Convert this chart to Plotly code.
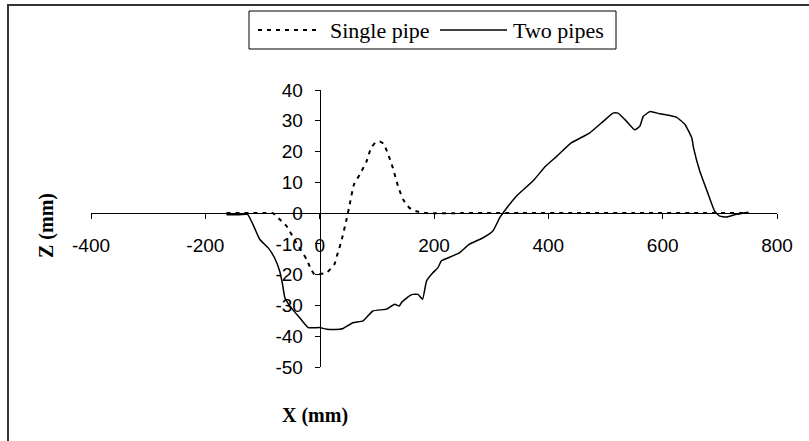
import plotly.graph_objects as go

# ---- data ----
single_x = [-163, -140, -120, -100, -82, -70, -58, -41, -23, -15, -9, 0, 12, 26, 30, 38,
            47, 52, 60, 70, 82, 90, 98, 105, 112, 119, 128, 137, 146, 157, 169, 187,
            250, 350, 450, 550, 650, 750]
single_y = [0, 0, 0, 0, 0, -2, -4.2, -9.6, -15, -18.3, -19.9, -19.8, -19.4, -16.5, -14, -9.1,
            -2, 2.3, 9.3, 12.5, 16.8, 21.2, 23, 23.3, 22.5, 19.5, 14.7, 8.8, 4.4, 1.7, 0.6, 0,
            0, 0, 0, 0, 0, 0]

two_x = [-163, -140, -126, -114, -105, -90, -79, -70, -65, -61, -50, -35, -20, 0, 12, 35,
         41, 58, 76, 93, 117, 131, 139, 143, 157, 163, 172, 180, 187, 198, 207, 213, 233,
         245, 262, 286, 303, 315, 321, 344, 373, 395, 415, 440, 472, 496, 513, 522, 537,
         551, 560, 566, 578, 595, 613, 624, 639, 651, 654, 665, 680, 691, 700, 712, 729, 750]
two_y = [-0.5, -0.5, -0.4, -4.8, -8.5, -11.3, -14.5, -18.8, -23.1, -27.4, -30.7, -34, -37.2,
         -37.2, -37.7, -37.7, -37.5, -35.6, -35, -31.8, -31.2, -29.6, -30.2, -29.1, -26.9,
         -26.4, -26.4, -28, -22, -19.4, -17.7, -15.5, -13.9, -12.8, -10.1, -8, -5.8, -1.5,
         0.1, 5.5, 10.4, 15.2, 18.5, 22.8, 26, 29.8, 32.5, 32.5, 29.8, 27.1, 28.2, 31.4, 33,
         32.3, 31.7, 31.2, 28.8, 24.4, 21.2, 13.6, 6, 0.6, -1, -1.3, -0.4, 0.3]

series_names = ["Single pipe", "Two pipes"]
x_ticks = [-400, -200, 0, 200, 400, 600, 800]
y_ticks = [40, 30, 20, 10, 0, -10, -20, -30, -40, -50]
x_title = "X (mm)"
y_title = "Z (mm)"

# ---- layout geometry ----
W, H = 809, 441
L, R, T, B = 91, 32, 90, 74
pw, ph = W - L - R, H - T - B


def px(xp):
    return (xp - L) / pw


def py(yp):
    return (H - B - yp) / ph


DASH = "4px,5px"
fig = go.Figure()
fig.add_trace(go.Scatter(x=single_x, y=single_y, mode="lines", name=series_names[0],
                         line=dict(color="black", width=2, dash=DASH, shape="spline",
                                   smoothing=0.5), showlegend=False))
fig.add_trace(go.Scatter(x=two_x, y=two_y, mode="lines", name=series_names[1],
                         line=dict(color="black", width=1.5, shape="spline", smoothing=0.4),
                         showlegend=False))

xr = [x_ticks[0], x_ticks[-1]]
yr = [min(y_ticks), max(y_ticks)]
tickfont = dict(family="Liberation Sans, Arial, sans-serif", size=19, color="black")
SERIF = "Liberation Serif, serif"

fig.update_layout(
    width=W, height=H,
    margin=dict(l=L, r=R, t=T, b=B),
    paper_bgcolor="white", plot_bgcolor="white",
    xaxis=dict(range=xr, tickvals=x_ticks, ticktext=[str(v) for v in x_ticks],
               showgrid=False, zeroline=False,
               showline=True, linecolor="black", linewidth=1,
               ticks="outside", ticklen=5, tickcolor="black", tickwidth=1,
               tickfont=tickfont, anchor="free",
               position=(0 - yr[0]) / (yr[1] - yr[0]), ticklabelstandoff=10),
    yaxis=dict(range=yr, tickvals=y_ticks, ticktext=[str(v) for v in y_ticks],
               showgrid=False, zeroline=False,
               showline=True, linecolor="black", linewidth=1,
               ticks="outside", ticklen=5, tickcolor="black", tickwidth=1,
               tickfont=tickfont, anchor="free",
               position=(0 - xr[0]) / (xr[1] - xr[0]), ticklabelstandoff=8),
    showlegend=False,
)

shapes = [
    # chart area border (cropped on right/bottom in the reference)
    dict(type="rect", xref="paper", yref="paper", x0=px(8), x1=px(W + 20),
         y0=py(H + 20), y1=py(5), line=dict(color="#333333", width=2), layer="below"),
    # legend box
    dict(type="rect", xref="paper", yref="paper", x0=px(249), x1=px(616),
         y0=py(49), y1=py(11), line=dict(color="black", width=1), fillcolor="white"),
    dict(type="line", xref="paper", yref="paper", x0=px(258), x1=px(321),
         y0=py(30), y1=py(30), line=dict(color="black", width=2, dash=DASH)),
    dict(type="line", xref="paper", yref="paper", x0=px(440), x1=px(507),
         y0=py(30), y1=py(30), line=dict(color="black", width=1.5)),
]
fig.update_layout(shapes=shapes)

legfont = dict(family=SERIF, size=22, color="black")
titlefont = dict(family=SERIF, size=20, color="black")
annotations = [
    dict(text=series_names[0], xref="paper", yref="paper", x=px(328), y=py(30),
         xanchor="left", yanchor="middle", showarrow=False, font=legfont),
    dict(text=series_names[1], xref="paper", yref="paper", x=px(511), y=py(30),
         xanchor="left", yanchor="middle", showarrow=False, font=legfont),
    dict(text="<b>" + x_title + "</b>", xref="paper", yref="paper", x=px(315), y=py(415),
         xanchor="center", yanchor="middle", showarrow=False, font=titlefont),
    dict(text="<b>" + y_title + "</b>", xref="paper", yref="paper", x=px(46), y=py(226),
         xanchor="center", yanchor="middle", showarrow=False, font=titlefont, textangle=-90),
]
fig.update_layout(annotations=annotations)

fig.write_html("out.html", config={"displayModeBar": False},
               post_script="document.body.style.margin='0';document.body.style.overflow='hidden';")
